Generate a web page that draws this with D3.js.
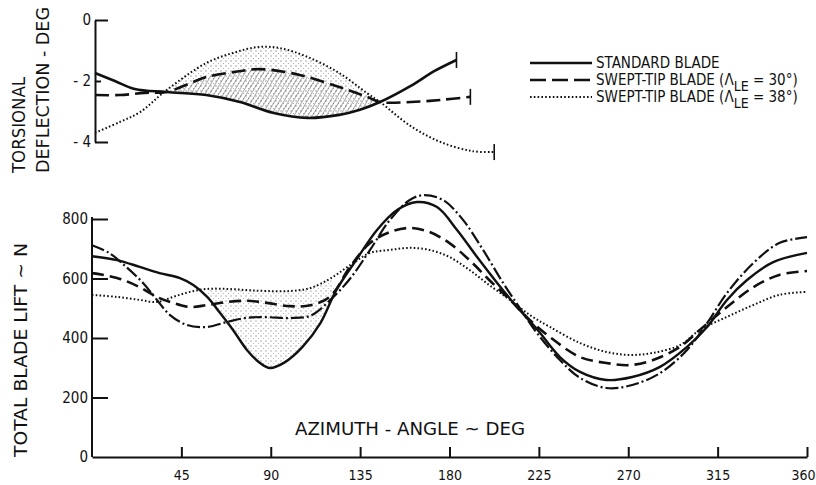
<!DOCTYPE html>
<html>
<head>
<meta charset="utf-8">
<script src="https://cdn.jsdelivr.net/npm/d3@7"></script>
<style>
  body { margin: 0; background: #fff; }
  svg { display: block; }
  text { font-family: "Liberation Sans Narrow", "DejaVu Sans Condensed", "Liberation Sans", sans-serif; fill: #111; }
  .axis path, .axis line { stroke: #111; stroke-width: 2; }
  .axis text { font-size: 15px; }
</style>
</head>
<body>
<div id="chart"></div>
<script>
// torsional deflection (deg) vs azimuth (deg), upper panel
var torStandard = [[0,-1.74],[10,-2.0],[20,-2.26],[36,-2.36],[56,-2.46],[73,-2.69],[90,-3.05],[107,-3.21],[123,-3.11],[133,-2.95],[143.5,-2.69],[159,-2.16],[171,-1.67],[182,-1.31]];
var torSwept30 = [[0,-2.46],[12.6,-2.46],[25,-2.39],[36,-2.36],[48,-2.07],[56,-1.87],[69.5,-1.71],[83,-1.61],[103,-1.80],[123,-2.20],[137,-2.52],[143.5,-2.69],[159,-2.69],[174,-2.62],[189,-2.52]];
var torSwept38 = [[0,-3.70],[12.6,-3.34],[22.7,-3.02],[36,-2.30],[56,-1.41],[69.5,-1.08],[81.6,-0.89],[93,-0.92],[107,-1.21],[123,-1.74],[137,-2.40],[143.5,-2.69],[159,-3.48],[174,-4.0],[190,-4.30],[201,-4.33]];

// total blade lift (N) vs azimuth (deg), lower panel
var liftStandard = [[0,675],[12.6,662],[24,639],[34,618],[44,602],[51,578],[58,538],[64.5,484],[71,427],[78,360],[84.6,316],[89.6,299],[97,318],[106,370],[115,450],[123,561],[133,662],[143.5,763],[153.6,830],[163.6,857],[173.7,840],[183.8,763],[193.9,672],[204,585],[214,504],[224,430],[235.6,336],[245.7,286],[259,259],[272,269],[286,303],[299.6,370],[309.7,437],[319.7,528],[329.8,595],[343,655],[360,686]];
var liftSwept30 = [[0,618],[12.6,602],[24,571],[32.7,538],[40.8,518],[49.3,504],[58,511],[68,521],[78,525],[88,518],[99.7,507],[110,510],[120,540],[130,640],[140,719],[150,756],[160,770],[170,756],[180,719],[190,662],[200,595],[210.5,528],[220.5,460],[230.6,403],[245.7,336],[259,316],[271,309],[282.5,326],[296,370],[306,427],[319.7,504],[333,571],[346,612],[360,625]];
var liftSwept38 = [[0,545],[12.6,538],[24,528],[32.7,521],[40.8,538],[49.3,555],[58,565],[68,565],[78,561],[88,558],[99.7,558],[110,568],[120,600],[130,645],[140,686],[150,696],[160,703],[170,696],[180,672],[190,629],[200,578],[210.5,528],[220.5,477],[230.6,437],[245.7,383],[259,353],[271,343],[282.5,350],[296,376],[306,427],[319.7,471],[333,511],[346,545],[360,555]];
var liftDashDot = [[0,712],[8.6,686],[17.2,639],[25.7,585],[32.7,528],[39.3,477],[47.8,444],[58,437],[68,454],[78,468],[88,470],[99.7,467],[110,475],[120,528],[130,600],[140,696],[150,797],[160,864],[166.7,880],[176.7,864],[186.8,797],[196.9,696],[207,585],[215.5,500],[224,417],[235.6,326],[245.7,266],[259,232],[272,242],[286,282],[299.6,360],[309.7,450],[319.7,551],[333,652],[346,719],[360,739]];

var xTicks = [45, 90, 135, 180, 225, 270, 315, 360];
var liftTicks = [0, 200, 400, 600, 800];
var torTicks = [0, -2, -4];

var legendLabels = [
  {main: "STANDARD BLADE", sub: null, tail: null},
  {main: "SWEPT-TIP BLADE (\u039B", sub: "LE", tail: " = 30\u00B0)"},
  {main: "SWEPT-TIP BLADE (\u039B", sub: "LE", tail: " = 38\u00B0)"}
];

var width = 816, height = 485;

var svg = d3.select("#chart")
    .append("svg")
    .attr("width", width)
    .attr("height", height);

var defs = svg.append("defs");

// stipple and hatching used for the shaded regions
var stip = defs.append("pattern")
    .attr("id", "stipple")
    .attr("patternUnits", "userSpaceOnUse")
    .attr("width", 5).attr("height", 5);
stip.append("circle").attr("cx", 1).attr("cy", 1).attr("r", 0.7).attr("fill", "#555");
stip.append("circle").attr("cx", 3.5).attr("cy", 3.5).attr("r", 0.6).attr("fill", "#777");

var hatch = defs.append("pattern")
    .attr("id", "hatch")
    .attr("patternUnits", "userSpaceOnUse")
    .attr("width", 4).attr("height", 4)
    .attr("patternTransform", "rotate(30)");
hatch.append("line").attr("x1", 0).attr("y1", 0).attr("x2", 0).attr("y2", 4)
    .attr("stroke", "#333").attr("stroke-width", 1);

// ---------- scales ----------
var xLift = d3.scaleLinear().domain([0, 360]).range([92, 807]);
var yLift = d3.scaleLinear().domain([0, 800]).range([457, 219]);

var xTor = d3.scaleLinear().domain([0, 360]).range([95, 810]);
var yTor = d3.scaleLinear().domain([-4, 0]).range([142, 20]);

var lineLift = d3.line().x(d => xLift(d[0])).y(d => yLift(d[1])).curve(d3.curveCatmullRom);
var lineTor = d3.line().x(d => xTor(d[0])).y(d => yTor(d[1])).curve(d3.curveCatmullRom);

function band(upper, lower, a, b, line) {
  var up = upper.filter(d => d[0] >= a && d[0] <= b);
  var lo = lower.filter(d => d[0] >= a && d[0] <= b).slice().reverse();
  return line(up) + "L" + line(lo).slice(1) + "Z";
}

// ---------- upper panel ----------
var topPanel = svg.append("g");

topPanel.append("path")
    .attr("d", band(torSwept38, torStandard, 36, 143.5, lineTor))
    .attr("fill", "url(#stipple)")
    .attr("opacity", 0.7);
topPanel.append("path")
    .attr("d", band(torSwept30, torStandard, 36, 143.5, lineTor))
    .attr("fill", "url(#hatch)")
    .attr("opacity", 0.8);

var torAxis = d3.axisLeft(yTor).tickValues(torTicks).tickSize(-13).tickSizeOuter(0).tickPadding(4)
    .tickFormat(d => d === 0 ? "0" : "- " + Math.abs(d));
topPanel.append("g")
    .attr("class", "axis")
    .attr("transform", "translate(95,0)")
    .call(torAxis)
    .call(g => g.selectAll(".tick").filter(d => d === -2).select("line").attr("x2", 6));

topPanel.append("path").attr("d", lineTor(torStandard))
    .attr("fill", "none").attr("stroke", "#111").attr("stroke-width", 2.6);
topPanel.append("path").attr("d", lineTor(torSwept30))
    .attr("fill", "none").attr("stroke", "#111").attr("stroke-width", 2.6)
    .attr("stroke-dasharray", "14,6");
topPanel.append("path").attr("d", lineTor(torSwept38))
    .attr("fill", "none").attr("stroke", "#111").attr("stroke-width", 2)
    .attr("stroke-dasharray", "1.6,2.2");

// end bars
[torStandard, torSwept30, torSwept38].forEach(function(s) {
  var last = s[s.length - 1];
  topPanel.append("line")
      .attr("x1", xTor(last[0])).attr("x2", xTor(last[0]))
      .attr("y1", yTor(last[1]) - 8).attr("y2", yTor(last[1]) + 8)
      .attr("stroke", "#111").attr("stroke-width", 1.6);
});

topPanel.append("text")
    .attr("transform", "translate(25,173) rotate(-90)")
    .style("font-size", "18px")
    .attr("textLength", 96).attr("lengthAdjust", "spacingAndGlyphs")
    .text("TORSIONAL");
topPanel.append("text")
    .attr("transform", "translate(49,173) rotate(-90)")
    .style("font-size", "18px")
    .attr("textLength", 166).attr("lengthAdjust", "spacingAndGlyphs")
    .text("DEFLECTION - DEG");

// ---------- lower panel ----------
var bottomPanel = svg.append("g");

bottomPanel.append("path")
    .attr("d", band(liftSwept38, liftStandard, 56, 124, lineLift))
    .attr("fill", "url(#stipple)")
    .attr("opacity", 0.6);

var xAxis = d3.axisBottom(xLift).tickValues(xTicks).tickSize(-10).tickSizeOuter(0).tickPadding(13);
bottomPanel.append("g")
    .attr("class", "axis")
    .attr("transform", "translate(0,457)")
    .call(xAxis)
    .call(g => g.selectAll(".tick text").style("font-size", "14px"))
    .call(g => g.selectAll(".tick").filter(d => d === 360).select("text").attr("dx", -4));

var yAxis = d3.axisLeft(yLift).tickValues(liftTicks).tickSize(-16).tickSizeOuter(0).tickPadding(4);
bottomPanel.append("g")
    .attr("class", "axis")
    .attr("transform", "translate(92,0)")
    .call(yAxis)
    .call(g => g.select(".domain").attr("d", "M0," + (yLift(800) - 2) + "V" + yLift(0)))
    .call(g => g.selectAll(".tick").filter(d => d === 0).select("line").remove());

bottomPanel.append("path").attr("d", lineLift(liftSwept38))
    .attr("fill", "none").attr("stroke", "#111").attr("stroke-width", 2)
    .attr("stroke-dasharray", "1.6,2.2");
bottomPanel.append("path").attr("d", lineLift(liftSwept30))
    .attr("fill", "none").attr("stroke", "#111").attr("stroke-width", 2.6)
    .attr("stroke-dasharray", "12,6");
bottomPanel.append("path").attr("d", lineLift(liftDashDot))
    .attr("fill", "none").attr("stroke", "#111").attr("stroke-width", 2.2)
    .attr("stroke-dasharray", "13,3,2,3");
bottomPanel.append("path").attr("d", lineLift(liftStandard))
    .attr("fill", "none").attr("stroke", "#111").attr("stroke-width", 2.4);

bottomPanel.append("text")
    .attr("x", 410).attr("y", 435)
    .attr("text-anchor", "middle")
    .style("font-size", "18px")
    .attr("textLength", 230).attr("lengthAdjust", "spacingAndGlyphs")
    .text("AZIMUTH - ANGLE ~ DEG");

bottomPanel.append("text")
    .attr("transform", "translate(27,457) rotate(-90)")
    .style("font-size", "18px")
    .attr("textLength", 214).attr("lengthAdjust", "spacingAndGlyphs")
    .text("TOTAL BLADE LIFT ~ N");

// ---------- legend ----------
var legend = svg.append("g");
var legendDash = [null, "16,6", "1.6,2.2"];
var legendWidth = [2.4, 2.6, 2];
var legendY = [63, 80, 97];

legendLabels.forEach(function(l, i) {
  legend.append("line")
      .attr("x1", 530).attr("x2", 592)
      .attr("y1", legendY[i]).attr("y2", legendY[i])
      .attr("stroke", "#111").attr("stroke-width", legendWidth[i])
      .attr("stroke-dasharray", legendDash[i]);
  var t = legend.append("text")
      .attr("x", 596).attr("y", legendY[i] + 5)
      .style("font-size", "15px");
  t.append("tspan").text(l.main);
  if (l.sub) {
    t.append("tspan").attr("dy", 6).style("font-size", "14px").text(l.sub);
    t.append("tspan").attr("dy", -6).text(l.tail);
  }
});
</script>
</body>
</html>
